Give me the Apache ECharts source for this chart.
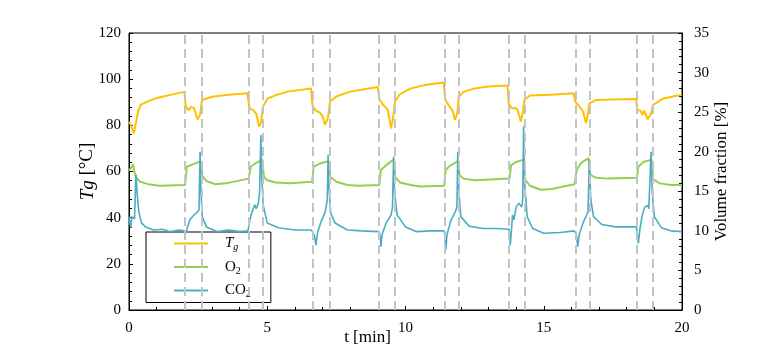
<!DOCTYPE html>
<html>
<head>
<meta charset="utf-8">
<script src="https://cdn.jsdelivr.net/npm/echarts@6/dist/echarts.min.js"></script>
<style>
html,body{margin:0;padding:0;background:#fff;}
#main{width:784px;height:354px;}
</style>
</head>
<body>
<div id="main"></div>
<script>
/* 气体温度 Tg [°C] */
var tgT = [0, 0.08, 0.17, 0.25, 0.33, 0.43, 0.7, 1.0, 1.5, 2.0, 2.05, 2.15, 2.24, 2.35, 2.48, 2.57, 2.64, 3.0, 3.6, 4.28, 4.36, 4.5, 4.6, 4.71, 4.78, 4.84, 5.02, 5.3, 5.74, 6.58, 6.64, 6.75, 6.9, 7.0, 7.09, 7.19, 7.27, 7.5, 8.0, 8.5, 9.0, 9.06, 9.2, 9.35, 9.48, 9.56, 9.62, 9.8, 10.2, 10.7, 11.38, 11.44, 11.6, 11.7, 11.79, 11.87, 11.93, 12.1, 12.5, 13.0, 13.69, 13.73, 13.78, 13.85, 13.95, 14.05, 14.17, 14.25, 14.3, 14.5, 15.26, 16.08, 16.14, 16.3, 16.42, 16.53, 16.6, 16.65, 16.9, 17.5, 18.34, 18.38, 18.5, 18.57, 18.63, 18.76, 18.88, 18.95, 19.3, 19.7, 20];
var tgV = [81.5, 80, 76.5, 81, 86, 89, 90.5, 91.8, 93.2, 94.5, 88.5, 86.5, 88, 87.5, 82.6, 84.5, 91, 92.4, 93.2, 93.9, 87.4, 86.6, 85, 79.4, 81.5, 88, 91.7, 93, 94.6, 96, 88.5, 86.5, 85.5, 84, 80.2, 83, 90.3, 92.5, 94.6, 95.6, 96.6, 91, 88.8, 87, 78.7, 84, 90.3, 93.5, 96, 97.5, 98.6, 91, 88, 86.5, 82.3, 85, 92.4, 94.5, 96, 96.8, 97.3, 89.5, 90.3, 87.4, 87.5, 87, 81.6, 86, 91, 92.9, 93.2, 93.9, 90.3, 88, 86, 80.9, 85, 89.5, 91, 91.2, 91.4, 86.7, 86.3, 84.5, 86.5, 82.6, 85, 88.8, 91.5, 92.6, 93.2];
/* O2 体积分数 [%] */
var o2T = [0, 0.08, 0.15, 0.19, 0.25, 0.4, 0.7, 1.1, 2.03, 2.09, 2.3, 2.6, 2.66, 2.8, 3.1, 3.5, 4.33, 4.4, 4.6, 4.82, 4.88, 5.0, 5.3, 5.8, 6.62, 6.68, 6.9, 7.22, 7.28, 7.5, 7.9, 8.3, 9.05, 9.11, 9.3, 9.57, 9.63, 9.8, 10.2, 10.5, 11.4, 11.45, 11.6, 11.9, 11.95, 12.1, 12.5, 13.76, 13.82, 14.0, 14.27, 14.32, 14.5, 14.9, 15.3, 15.7, 16.12, 16.19, 16.35, 16.62, 16.67, 16.9, 17.3, 18.37, 18.42, 18.6, 18.9, 18.96, 19.2, 19.6, 20];
var o2V = [17.6, 18.0, 18.4, 17.5, 16.8, 16.2, 15.9, 15.7, 15.8, 18.1, 18.4, 18.8, 16.9, 16.3, 15.9, 16.0, 16.6, 18.1, 18.6, 19.0, 16.8, 16.4, 16.1, 16.0, 16.2, 18.1, 18.5, 18.8, 16.8, 16.2, 15.8, 15.7, 15.8, 17.7, 18.3, 19.0, 16.8, 16.1, 15.8, 15.6, 15.7, 17.7, 18.2, 18.8, 17.1, 16.6, 16.4, 16.6, 18.3, 18.7, 19.0, 16.5, 15.7, 15.2, 15.3, 15.6, 15.9, 17.7, 18.6, 19.2, 17.1, 16.7, 16.6, 16.7, 18.1, 18.7, 19.0, 16.5, 16.0, 15.8, 15.8];
/* CO2 体积分数 [%] */
var co2T = [0, 0.03, 0.06, 0.1, 0.15, 0.2, 0.25, 0.3, 0.35, 0.45, 0.6, 0.9, 1.2, 1.5, 1.8, 2.0, 2.05, 2.1, 2.2, 2.35, 2.45, 2.5, 2.53, 2.57, 2.6, 2.65, 2.8, 3.2, 3.6, 4.0, 4.3, 4.38, 4.45, 4.55, 4.6, 4.68, 4.72, 4.77, 4.8, 4.85, 5.0, 5.4, 6.0, 6.6, 6.7, 6.76, 6.82, 6.95, 7.1, 7.17, 7.2, 7.24, 7.3, 7.45, 7.9, 8.4, 9.05, 9.09, 9.11, 9.15, 9.3, 9.48, 9.53, 9.57, 9.6, 9.7, 10.0, 10.4, 10.9, 11.4, 11.43, 11.46, 11.5, 11.65, 11.8, 11.86, 11.89, 11.93, 12.0, 12.3, 12.8, 13.3, 13.75, 13.79, 13.83, 13.87, 13.92, 14.0, 14.1, 14.2, 14.24, 14.27, 14.31, 14.4, 14.6, 15.0, 15.6, 16.1, 16.18, 16.23, 16.28, 16.42, 16.55, 16.6, 16.65, 16.7, 16.8, 17.1, 17.6, 18.35, 18.39, 18.42, 18.47, 18.55, 18.65, 18.75, 18.8, 18.88, 18.92, 19.0, 19.25, 19.6, 20];
var co2V = [11.8, 11.0, 10.4, 11.8, 12.0, 11.5, 17.1, 14.5, 12.5, 11.0, 10.5, 10.1, 10.2, 9.9, 10.1, 10.0, 9.7, 10.3, 11.4, 12.0, 12.3, 12.1, 12.6, 20.0, 15.0, 11.8, 10.5, 9.9, 10.1, 9.9, 10.0, 11.5, 12.4, 13.3, 12.8, 13.5, 14.7, 22.1, 17.0, 13.3, 11.0, 10.4, 10.1, 10.1, 9.5, 8.2, 9.8, 11.2, 12.4, 13.9, 19.6, 15.0, 12.2, 11.0, 10.1, 10.0, 9.9, 9.0, 8.0, 9.5, 11.0, 12.0, 13.0, 19.4, 15.0, 12.0, 10.5, 9.9, 10.0, 10.0, 9.2, 7.6, 9.5, 11.4, 12.4, 13.0, 20.0, 15.0, 11.8, 10.6, 10.3, 10.3, 10.2, 8.2, 10.0, 12.0, 11.4, 13.0, 13.5, 13.0, 14.0, 23.2, 16.0, 11.8, 10.3, 9.7, 9.8, 10.0, 9.5, 8.0, 9.5, 11.0, 12.0, 12.4, 19.0, 14.0, 11.8, 10.8, 10.5, 10.5, 9.5, 8.4, 10.0, 11.8, 13.0, 13.2, 12.8, 20.0, 15.0, 11.8, 10.4, 10.0, 9.9];
/* 虚线位置 t [min] */
var switchT = [2.03, 2.64, 4.33, 4.84, 6.64, 7.27, 9.05, 9.62, 11.43, 11.93, 13.73, 14.3, 16.14, 16.65, 18.38, 18.95];

var fontName = '"Liberation Serif", "DejaVu Serif", serif';

/*组合 [x, y] 数据*/
function pairUp(ts, vs){
	var out = [];
	for (var i = 0; i < ts.length; i++) {
		out.push([ts[i], vs[i]]);
	}
	return out;
}

var chart = echarts.init(document.getElementById('main'));

var axisLine = {show: true, lineStyle: {color: '#000', width: 1}};
var tick = {show: true, inside: true, length: 4, lineStyle: {color: '#000'}};
var minor = {show: true, splitNumber: 5, length: 3, lineStyle: {color: '#000'}};
var label = {fontFamily: fontName, fontSize: 15, color: '#000'};

var option = {
	animation: false,
	backgroundColor: '#fff',
	grid: {left: 129, right: 102, top: 33, bottom: 44, show: true, borderColor: '#000', borderWidth: 1},
	legend: {
		orient: 'vertical',
		left: 146,
		top: 232,
		data: ['Tg', 'O2', 'CO2'],
		itemWidth: 34,
		itemHeight: 2,
		itemGap: 7,
		padding: [4, 20, 3, 28],
		backgroundColor: '#fff',
		borderColor: '#000',
		borderWidth: 1,
		borderRadius: 0,
		icon: 'rect',
		formatter: function (name) {
			if (name == 'Tg') return '{it|T}{si|g}';
			if (name == 'O2') return '{n|O}{sb|2}';
			return '{n|CO}{sb|2}';
		},
		textStyle: {
			fontFamily: fontName,
			fontSize: 15,
			color: '#000',
			padding: [0, 0, 0, 12],
			rich: {
				n: {fontFamily: fontName, fontSize: 15, color: '#000', height: 18},
				it: {fontFamily: fontName, fontSize: 15, fontStyle: 'italic', color: '#000', height: 18},
				si: {fontFamily: fontName, fontSize: 10, fontStyle: 'italic', color: '#000', verticalAlign: 'bottom', padding: [8, 0, 0, 0]},
				sb: {fontFamily: fontName, fontSize: 10, color: '#000', verticalAlign: 'bottom', padding: [8, 0, 0, 0]}
			}
		}
	},
	xAxis: {
		type: 'value',
		min: 0,
		max: 20,
		interval: 5,
		name: 't [min]',
		nameLocation: 'middle',
		nameGap: 19,
		nameMoveOverlap: false,
		nameTextStyle: {fontFamily: fontName, fontSize: 17, color: '#000', padding: [0, 76, 0, 0]},
		axisLine: axisLine,
		axisTick: tick,
		minorTick: minor,
		axisLabel: Object.assign({margin: 11}, label),
		splitLine: {show: false}
	},
	yAxis: [{
		type: 'value',
		min: 0,
		max: 120,
		interval: 20,
		name: '{i|Tg} [°C]',
		nameLocation: 'middle',
		nameGap: 32,
		nameMoveOverlap: false,
		nameTextStyle: {
			fontFamily: fontName, fontSize: 19, color: '#000',
			rich: {i: {fontFamily: fontName, fontSize: 19, fontStyle: 'italic', color: '#000'}}
		},
		axisLine: axisLine,
		axisTick: tick,
		minorTick: minor,
		axisLabel: Object.assign({margin: 8}, label),
		splitLine: {show: false}
	}, {
		type: 'value',
		min: 0,
		max: 35,
		interval: 5,
		position: 'right',
		name: 'Volume fraction [%]',
		nameLocation: 'middle',
		nameGap: 31,
		nameMoveOverlap: false,
		nameTextStyle: {fontFamily: fontName, fontSize: 17, color: '#000'},
		axisLine: axisLine,
		axisTick: tick,
		minorTick: minor,
		axisLabel: Object.assign({margin: 12}, label),
		splitLine: {show: false}
	}],
	series: [{
		/*虚线：阶段切换*/
		name: 'switch',
		type: 'line',
		data: [],
		z: 1,
		silent: true,
		markLine: {
			silent: true,
			symbol: ['none', 'none'],
			label: {show: false},
			lineStyle: {color: '#C4C4C4', width: 2, type: [9, 5]},
			data: switchT.map(function (t) { return {xAxis: t}; })
		}
	}, {
		name: 'Tg',
		type: 'line',
		yAxisIndex: 0,
		showSymbol: false,
		z: 3,
		color: '#FFC000',
		lineStyle: {width: 2},
		data: pairUp(tgT, tgV)
	}, {
		name: 'O2',
		type: 'line',
		yAxisIndex: 1,
		showSymbol: false,
		z: 3,
		color: '#92D050',
		lineStyle: {width: 2},
		data: pairUp(o2T, o2V)
	}, {
		name: 'CO2',
		type: 'line',
		yAxisIndex: 1,
		showSymbol: false,
		z: 4,
		color: '#4BACC6',
		lineStyle: {width: 1.6},
		data: pairUp(co2T, co2V)
	}]
};
chart.setOption(option);
</script>
</body>
</html>
